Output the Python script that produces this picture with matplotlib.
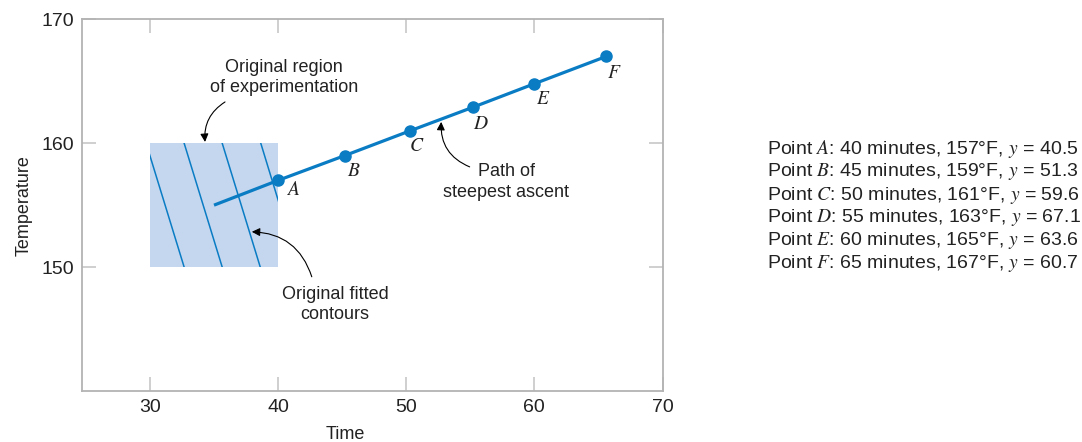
import matplotlib
matplotlib.use("Agg")
import matplotlib.pyplot as plt
from matplotlib.patches import Rectangle

plt.rcParams['font.family'] = ['Liberation Sans', 'DejaVu Sans']
plt.rcParams['mathtext.fontset'] = 'stix'

# ---- data ----
point_labels = ['A', 'B', 'C', 'D', 'E', 'F']
point_time = [40, 45.2, 50.3, 55.2, 60, 65.6]
point_temp = [157, 159, 161, 162.9, 164.8, 167]
path_start_time = 35
path_start_temp = 155

region_time = [30, 40]
region_temp = [150, 160]

contour_top_time = [29.7, 32.67, 35.64, 38.65]
contour_bottom_time = [32.67, 35.64, 38.61, 41.6]

table_minutes = [40, 45, 50, 55, 60, 65]
table_temp = [157, 159, 161, 163, 165, 167]
table_yield = [40.5, 51.3, 59.6, 67.1, 63.6, 60.7]

xticks = [30, 40, 50, 60, 70]
yticks = [150, 160, 170]

BLUE = '#0a7cc4'
TXT = '#222222'

fig = plt.figure(figsize=(10.82, 4.42), dpi=100)
ax = fig.add_axes([0.0758, 0.1154, 0.5365, 0.8409])
ax.set_xlim(24.7, 70)
ax.set_ylim(140, 170)

# region of experimentation
rect = Rectangle((region_time[0], region_temp[0]), region_time[1] - region_time[0],
                 region_temp[1] - region_temp[0], facecolor='#c5d7ef', edgecolor='none', zorder=1)
ax.add_patch(rect)
for xt, xb in zip(contour_top_time, contour_bottom_time):
    ln, = ax.plot([xt, xb], [region_temp[1], region_temp[0]], color=BLUE, lw=1.1, zorder=2)
    ln.set_clip_path(rect)

# path of steepest ascent
ax.plot([path_start_time] + point_time, [path_start_temp] + point_temp, color=BLUE, lw=2.3,
        zorder=3, solid_capstyle='butt')
ax.plot(point_time, point_temp, 'o', color=BLUE, ms=8, zorder=4)

offsets = [(11, -7), (6.5, -11.5), (5, -11.5), (6, -12.5), (6, -11.5), (6, -12)]
for lab, x, y, off in zip(point_labels, point_time, point_temp, offsets):
    ax.annotate('$' + lab + '$', (x, y), xytext=off, textcoords='offset points',
                ha='center', va='center', fontsize=14, color=TXT)

# annotations
arrowprops = dict(arrowstyle='-|>', color='black', lw=0.8, mutation_scale=12, shrinkA=0, shrinkB=0)
ax.text(40.47, 165.3, 'Original region\nof experimentation', ha='center', va='center',
        fontsize=13, color=TXT, linespacing=1.3)
ax.annotate('', xy=(34.3, 160.1), xytext=(35.86, 163.33),
            arrowprops=dict(arrowprops, connectionstyle='arc3,rad=0.3'))

ax.text(44.45, 146.98, 'Original fitted\ncontours', ha='center', va='center',
        fontsize=13, color=TXT, linespacing=1.3)
ax.annotate('', xy=(37.95, 152.85), xytext=(42.63, 149.22),
            arrowprops=dict(arrowprops, connectionstyle='arc3,rad=0.35'))

ax.text(57.8, 156.85, 'Path of\nsteepest ascent', ha='center', va='center',
        fontsize=13, color=TXT, linespacing=1.3)
ax.annotate('', xy=(52.73, 161.72), xytext=(54.95, 158.09),
            arrowprops=dict(arrowprops, connectionstyle='arc3,rad=-0.35'))

# axes styling
ax.set_xticks(xticks)
ax.set_yticks(yticks)
ax.tick_params(direction='in', length=10, width=1.3, color='#cccccc', labelsize=14,
               labelcolor=TXT, top=True, right=True, pad=6)
for s in ax.spines.values():
    s.set_color('#b3b3b3')
    s.set_linewidth(1.3)
ax.set_xlabel('Time', fontsize=13, color=TXT)
ax.set_ylabel('Temperature', fontsize=13, color=TXT)
ax.xaxis.set_label_coords(0.453, -0.095)
ax.yaxis.set_label_coords(-0.085, 0.5)

# table of points
for i, (lab, m, t, yv) in enumerate(zip(point_labels, table_minutes, table_temp, table_yield)):
    ypix = 149 + 23 * i
    fig.text(767 / 1082, 1 - ypix / 442,
             f'Point ${lab}$: {m} minutes, {t}\u00b0F, $y$ = {yv}',
             ha='left', va='center', fontsize=14, color=TXT)

fig.savefig('out.png', dpi=100)
